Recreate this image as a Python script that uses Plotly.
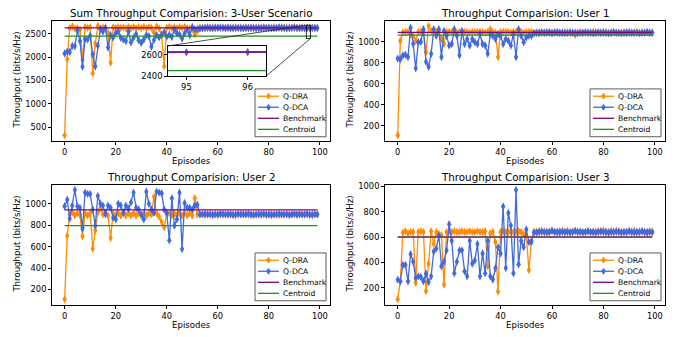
import plotly.graph_objects as go

EPISODES = list(range(100))

SUM_DRA = [330,1959,2622,2658,2613,2621,2591,1944,2643,2628,
           2643,1655,2289,2667,2598,2633,2628,2530,1883,2643,
           2628,2643,2628,2635,2623,2648,2623,2643,2620,2643,
           2623,2648,2623,2643,2630,2529,2658,2613,2475,1804,
           2633,2648,2623,2643,2620,2643,2623,2648,2623,2615,
           2593,2483,2563,2625,
           2625,2633,2625,2630,2638,2625,2630,2633,2630,2630,
           2625,2633,2630,2630,2625,2615,2625,2638,2625,2625,
           2630,2620,2633,2630,2625,2625,2638,2625,2630,2630,
           2633,2625,2630,2630,2625,2633,2625,2630,2630,2638,
           2625,2625,2630,2633,2630,2625]
SUM_DCA = [2079,2120,2111,2238,2232,2574,2345,1793,2387,2376,
           2460,2064,1801,2247,2603,2548,2628,2206,2468,2421,
           2518,2548,2415,2376,2347,2549,2320,2418,2494,2361,
           2309,2378,2473,2448,2224,2370,2473,2424,2477,2537,
           2441,2477,2431,2594,2508,2489,2401,2509,2587,2475,
           2646,2598,2607,2615,
           2620,2625,2635,2625,2615,2630,2630,2630,2630,2620,
           2630,2620,2620,2625,2630,2630,2620,2625,2625,2630,
           2625,2625,2620,2620,2635,2630,2625,2620,2620,2625,
           2635,2630,2625,2615,2625,2625,2640,2625,2620,2625,
           2620,2625,2625,2625,2625,2625]
U1_DRA = [110,1009,1087,1093,1093,1071,1056,1009,1093,1093,
          1093,900,1149,1102,1093,1093,1093,1025,978,1093,
          1093,1093,1093,1085,1093,1093,1093,1093,1085,1093,
          1093,1093,1093,1093,1085,1093,1118,1093,1085,854,
          1093,1093,1093,1093,1085,1093,1093,1093,1093,1085,
          1093,1093,1093,1085,
          1085,1093,1085,1085,1093,1085,1085,1093,1085,1085,
          1085,1093,1085,1085,1085,1065,1085,1093,1085,1085,
          1085,1085,1093,1085,1085,1085,1093,1085,1085,1085,
          1093,1085,1085,1085,1085,1093,1085,1085,1085,1093,
          1085,1085,1085,1093,1085,1085]
U1_DCA = [839,833,870,876,854,1133,978,746,994,1000,
          1118,808,761,885,1118,1056,1118,854,1102,1056,
          963,978,1118,1056,870,1102,978,1025,963,1025,
          994,978,1071,978,963,885,1071,1056,1025,1071,
          1056,978,1025,1009,963,1071,854,1118,1056,994,
          1040,1056,1056,1080,
          1085,1080,1090,1085,1085,1090,1080,1085,1090,1085,
          1085,1080,1085,1090,1085,1085,1080,1085,1085,1090,
          1085,1085,1080,1085,1090,1085,1085,1085,1080,1085,
          1090,1085,1085,1080,1085,1085,1090,1085,1085,1085,
          1080,1085,1085,1090,1085,1085]
U2_DRA = [110,700,900,920,890,910,895,695,910,890,
          910,580,750,920,960,900,910,890,680,910,
          890,910,890,910,890,910,890,910,890,910,
          890,910,890,910,900,1066,910,880,830,780,
          900,910,890,910,890,910,890,910,890,910,
          890,1050,900,900,
          900,895,900,905,900,900,895,900,905,900,
          900,905,900,895,900,900,905,900,900,895,
          900,900,905,900,900,895,900,905,900,900,
          895,900,900,905,900,900,900,895,905,900,
          900,900,895,900,905,900]
U2_DCA = [976,1036,861,982,1127,976,961,770,1103,1091,
          1091,946,795,1072,1000,982,900,982,961,870,
          855,1000,982,915,982,952,1012,1103,961,946,
          900,855,1112,1000,946,915,1112,1103,1097,946,
          915,659,1051,795,855,1103,577,1006,961,961,
          946,982,991,900,
          900,905,900,900,895,900,900,905,900,900,
          900,900,895,900,905,900,900,900,905,900,
          895,900,900,900,905,900,900,895,900,900,
          905,900,900,900,895,900,905,900,900,900,
          900,905,900,895,900,900]
U3_DRA = [110,250,635,645,630,640,640,240,640,645,
          640,175,390,645,545,640,625,615,225,640,
          645,640,645,640,640,645,640,640,645,640,
          640,645,640,640,645,370,630,640,560,170,
          640,645,640,640,645,640,640,645,640,620,
          610,340,570,640,
          640,645,640,640,645,640,650,640,640,645,
          640,640,645,640,640,650,640,645,640,640,
          645,640,640,640,645,640,650,640,640,645,
          640,640,645,640,640,640,645,640,650,640,
          640,645,640,640,645,640]
U3_DCA = [264,251,380,380,251,465,406,277,290,285,
          251,310,245,290,485,510,610,370,405,495,
          700,570,315,405,495,495,330,290,570,390,
          415,545,290,470,315,570,290,265,355,520,
          470,840,355,790,690,315,970,385,570,520,
          660,560,560,635,
          635,640,645,640,635,640,650,640,640,635,
          645,640,640,635,640,645,640,640,635,640,
          645,640,640,635,640,645,640,640,635,640,
          640,645,640,635,640,640,645,640,635,640,
          640,645,640,635,640,640]

BENCH_SUM, CENT_SUM = 2628, 2452
BENCH_U1, CENT_U1 = 1088, 1062
BENCH_U2, CENT_U2 = 943, 795
BENCH_U3, CENT_U3 = 600, 597

TITLES = ["Sum Throughput Comparision: 3-User Scenario",
          "Throughput Comparision: User 1",
          "Throughput Comparision: User 2",
          "Throughput Comparision: User 3"]
SERIES_NAMES = ["Q-DRA", "Q-DCA", "Benchmark", "Centroid"]
X_TICKS = [0, 20, 40, 60, 80, 100]
Y_TICKS = [[500, 1000, 1500, 2000, 2500],
           [200, 400, 600, 800, 1000],
           [200, 400, 600, 800, 1000],
           [200, 400, 600, 800, 1000]]
INSET_XTICKS = [95, 96]
INSET_YTICKS = [2400, 2600]
INSET_XRANGE = [94.7, 96.3]
INSET_YRANGE = [2400, 2685]

for arr in [SUM_DRA, SUM_DCA, U1_DRA, U1_DCA, U2_DRA, U2_DCA, U3_DRA, U3_DCA]:
    assert len(arr) == len(EPISODES), len(arr)

W, H = 683, 337
FONT = "DejaVu Sans"
ORANGE = "#FF8C00"
BLUE = "#4169E1"
PURPLE = "#800080"
GREEN = "#1E951E"
COLORS = [ORANGE, BLUE, PURPLE, GREEN]
HAS_MARKER = [True, True, False, False]
LW = 1.3
TICK_SIZE = 8.3
LABEL_SIZE = 8.6
TITLE_SIZE = 10.3
LEGEND_SIZE = 7.6


def dom_x(a, b):
    return [a / W, b / W]


def dom_y(top, bottom):
    return [1 - bottom / H, 1 - top / H]


def fx(px):
    return px / W


def fy(py):
    return 1 - py / H


panels = [
    dict(dra=SUM_DRA, dca=SUM_DCA, bench=BENCH_SUM, cent=CENT_SUM, xpx=(52, 330), ypx=(18, 141)),
    dict(dra=U1_DRA, dca=U1_DCA, bench=BENCH_U1, cent=CENT_U1, xpx=(385, 665), ypx=(18, 141)),
    dict(dra=U2_DRA, dca=U2_DCA, bench=BENCH_U2, cent=CENT_U2, xpx=(52, 330), ypx=(186, 309)),
    dict(dra=U3_DRA, dca=U3_DCA, bench=BENCH_U3, cent=CENT_U3, xpx=(385, 665), ypx=(186, 309)),
]

fig = go.Figure()
layout = dict(width=W, height=H, margin=dict(l=0, r=0, t=0, b=0),
              plot_bgcolor="white", paper_bgcolor="white",
              font=dict(family=FONT, size=LABEL_SIZE, color="black"),
              showlegend=False)
annotations = []
shapes = []

xmin, xmax = min(EPISODES), max(EPISODES)
xpad = 0.05 * (xmax - xmin)
XRANGE = [xmin - xpad, xmax + xpad]

axis_common = dict(ticks="outside", ticklen=3, tickwidth=0.8, tickcolor="black",
                   showline=True, linecolor="black", linewidth=0.8, mirror=True,
                   showgrid=False, zeroline=False,
                   tickfont=dict(family=FONT, size=TICK_SIZE, color="black"))


def add_series(values_list, xa, ya, show):
    for name, y, c, mk in zip(SERIES_NAMES, values_list, COLORS, HAS_MARKER):
        fig.add_trace(go.Scatter(
            x=EPISODES, y=y, name=name, mode="lines+markers" if mk else "lines",
            line=dict(color=c, width=LW),
            marker=dict(symbol="diamond-tall", size=6, color=c, line=dict(width=0)),
            xaxis=xa, yaxis=ya, showlegend=show))


def add_legend(right_px, bottom_px):
    lw_, lh_ = 71, 49
    left, top = right_px - lw_, bottom_px - lh_
    shapes.append(dict(type="rect", xref="paper", yref="paper",
                       x0=fx(left), x1=fx(right_px), y0=fy(bottom_px), y1=fy(top),
                       fillcolor="white", line=dict(color="#333333", width=0.8), layer="above"))
    for k, (name, c, mk) in enumerate(zip(SERIES_NAMES, COLORS, HAS_MARKER)):
        cy = top + 7.5 + k * 11.3
        shapes.append(dict(type="line", xref="paper", yref="paper",
                           x0=fx(left + 3), x1=fx(left + 24), y0=fy(cy), y1=fy(cy),
                           line=dict(color=c, width=LW), layer="above"))
        if mk:
            cx = left + 13.5
            path = (f"M {fx(cx)} {fy(cy - 3.2)} L {fx(cx + 2.1)} {fy(cy)} "
                    f"L {fx(cx)} {fy(cy + 3.2)} L {fx(cx - 2.1)} {fy(cy)} Z")
            shapes.append(dict(type="path", xref="paper", yref="paper", path=path,
                               fillcolor=c, line=dict(color=c, width=0.5), layer="above"))
        annotations.append(dict(text=name, x=fx(left + 26), y=fy(cy), xref="paper", yref="paper",
                                xanchor="left", yanchor="middle", showarrow=False,
                                font=dict(family=FONT, size=LEGEND_SIZE, color="black")))


yranges = []
for i, p in enumerate(panels):
    n = "" if i == 0 else str(i + 1)
    xa, ya = "x" + n, "y" + n
    add_series([p["dra"], p["dca"], [p["bench"]] * len(EPISODES), [p["cent"]] * len(EPISODES)],
               xa, ya, False)
    allv = p["dra"] + p["dca"] + [p["bench"], p["cent"]]
    lo, hi = min(allv), max(allv)
    pad = 0.05 * (hi - lo)
    yr = [lo - pad, hi + pad]
    yranges.append(yr)
    layout["xaxis" + n] = dict(domain=dom_x(*p["xpx"]), range=XRANGE, tickvals=X_TICKS,
                               anchor=ya, **axis_common)
    layout["yaxis" + n] = dict(domain=dom_y(*p["ypx"]), range=yr, tickvals=Y_TICKS[i],
                               anchor=xa, **axis_common)
    x0, x1 = p["xpx"]
    top, bot = p["ypx"]
    add_legend(x1 - 4, bot - 4)
    annotations.append(dict(text=TITLES[i], x=(x0 + x1) / 2 / W, y=fy(top - 8),
                            xref="paper", yref="paper", xanchor="center", yanchor="middle",
                            showarrow=False, font=dict(family=FONT, size=TITLE_SIZE, color="black")))
    annotations.append(dict(text="Episodes", x=(x0 + x1) / 2 / W, y=fy(bot + 21),
                            xref="paper", yref="paper", xanchor="center", yanchor="middle",
                            showarrow=False, font=dict(family=FONT, size=LABEL_SIZE, color="black")))
    annotations.append(dict(text="Throughput (bits/s/Hz)", x=fx(x0 - 35), y=fy((top + bot) / 2),
                            xref="paper", yref="paper", xanchor="center", yanchor="middle",
                            textangle=-90, showarrow=False,
                            font=dict(family=FONT, size=LABEL_SIZE, color="black")))

# inset of the sum plot
IN_X, IN_Y = (168, 266), (44, 75)
add_series([SUM_DRA, SUM_DCA, [BENCH_SUM] * len(EPISODES), [CENT_SUM] * len(EPISODES)],
           "x5", "y5", False)
layout["xaxis5"] = dict(domain=dom_x(*IN_X), range=INSET_XRANGE, tickvals=INSET_XTICKS,
                        anchor="y5", **axis_common)
layout["yaxis5"] = dict(domain=dom_y(*IN_Y), range=INSET_YRANGE, tickvals=INSET_YTICKS,
                        anchor="x5", **axis_common)

mx0, mx1 = panels[0]["xpx"]
mt, mb = panels[0]["ypx"]
yr0 = yranges[0]


def px_to_data_x(px):
    return XRANGE[0] + (px - mx0) / (mx1 - mx0) * (XRANGE[1] - XRANGE[0])


def px_to_data_y(py):
    return yr0[0] + (mb - py) / (mb - mt) * (yr0[1] - yr0[0])


shapes.append(dict(type="rect", xref="x", yref="y", x0=INSET_XRANGE[0], x1=INSET_XRANGE[1],
                   y0=INSET_YRANGE[0], y1=INSET_YRANGE[1], line=dict(color="black", width=0.8)))
shapes.append(dict(type="line", xref="x", yref="y",
                   x0=px_to_data_x(IN_X[0]), y0=px_to_data_y(IN_Y[0]),
                   x1=INSET_XRANGE[0], y1=INSET_YRANGE[1], line=dict(color="#222222", width=0.8)))
shapes.append(dict(type="line", xref="x", yref="y",
                   x0=px_to_data_x(IN_X[1]), y0=px_to_data_y(IN_Y[1]),
                   x1=INSET_XRANGE[1], y1=INSET_YRANGE[0], line=dict(color="#222222", width=0.8)))

layout["annotations"] = annotations
layout["shapes"] = shapes
fig.update_layout(**layout)
fig.write_html("out.html", config={"displayModeBar": False},
               post_script="document.body.style.margin='0';document.body.style.padding='0';")
